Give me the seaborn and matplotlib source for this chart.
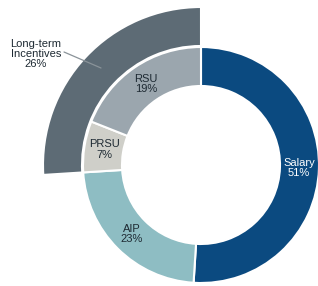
import matplotlib
matplotlib.use("Agg")
import matplotlib.pyplot as plt
import seaborn as sns
import numpy as np
from matplotlib.patches import Wedge

sns.set_style("white")
plt.rcParams['font.family'] = ['Liberation Sans', 'DejaVu Sans']

# data
categories = ["Salary", "AIP", "PRSU", "RSU"]
values = [51, 23, 7, 19]
colors = ["#0b4a80", "#8ebdc3", "#cfcfc9", "#9ba6ae"]
text_colors = ["white", "#1e2a33", "#1e2a33", "#1e2a33"]
lti_label = "Long-term\nIncentives"
lti_value = 26

W, H = 318, 286
fig = plt.figure(figsize=(W / 100, H / 100), dpi=100)
ax = fig.add_axes([0, 0, 1, 1])

cx, cy = 201, H - 165
r_out, r_in = 118, 79
r_lti = 158

ax.pie(values, colors=colors, startangle=90, counterclock=False,
       radius=r_out, center=(cx, cy),
       wedgeprops=dict(width=r_out - r_in, edgecolor="white", linewidth=1.5),
       frame=True)

# outer LTI ring covering PRSU + RSU
start_frac = (values[0] + values[1]) / 100
theta1 = 90 - 360 * (start_frac + lti_value / 100)
theta2 = 90 - 360 * start_frac
ax.add_patch(Wedge((cx, cy), r_lti, theta1, theta2, width=r_lti - r_out - 1,
                   facecolor="#5d6b75", edgecolor="white", linewidth=1.5))

ax.set_xlim(0, W)
ax.set_ylim(0, H)
ax.set_aspect("equal")
ax.axis("off")

# labels
label_r = 98
cum = 0
for cat, v, tc in zip(categories, values, text_colors):
    mid = (cum + v / 2) / 100
    ang = np.deg2rad(90 - 360 * mid)
    cum += v
    x = cx + label_r * np.cos(ang)
    y = cy + label_r * np.sin(ang)
    ax.text(x, y, f"{cat}\n{v}%", ha="center", va="center", fontsize=8,
            color=tc, linespacing=1.05)

ax.text(36, H - 54, f"{lti_label}\n{lti_value}%", ha="center", va="center",
        fontsize=8, color="#1e2a33", linespacing=1.05)
ax.plot([64, 101], [H - 52, H - 68], color="#8a9399", lw=0.9)

fig.savefig("out.png", dpi=100)
